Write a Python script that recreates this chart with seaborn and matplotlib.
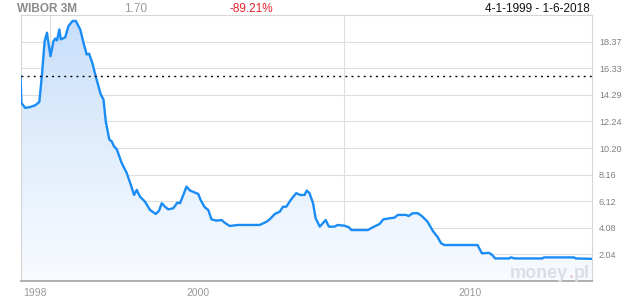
import numpy as np
import pandas as pd
import matplotlib
matplotlib.use("Agg")
import matplotlib.pyplot as plt
import seaborn as sns
from matplotlib.colors import LinearSegmentedColormap

# ---- data ----
years = [1999.00, 1999.03, 1999.16, 1999.33, 1999.50, 1999.64, 1999.73, 1999.82, 1999.90, 1999.93,
         2000.02, 2000.12, 2000.18, 2000.24, 2000.32, 2000.37, 2000.52, 2000.63, 2000.77, 2000.88,
         2001.03, 2001.14, 2001.25, 2001.33, 2001.44, 2001.54, 2001.65, 2001.73, 2001.82, 2001.90,
         2002.02, 2002.10, 2002.18, 2002.27, 2002.44, 2002.61, 2002.75, 2002.86, 2002.95, 2003.06,
         2003.23, 2003.40, 2003.60, 2003.71, 2003.80, 2003.91, 2004.02, 2004.19, 2004.33, 2004.42,
         2004.51, 2004.64, 2004.76, 2005.04, 2005.12, 2005.26, 2005.38, 2005.49, 2005.66, 2005.83,
         2005.94, 2006.11, 2006.39, 2007.13, 2007.36, 2007.47, 2007.64, 2007.81, 2007.92, 2008.03,
         2008.20, 2008.37, 2008.51, 2008.65, 2008.73, 2008.82, 2008.94, 2009.03, 2009.17, 2009.37,
         2009.48, 2009.67, 2009.78, 2010.01, 2010.16, 2010.24, 2010.80, 2010.97, 2011.20, 2011.33,
         2011.54, 2011.71, 2011.82, 2012.10, 2012.19, 2012.33, 2012.50, 2012.66, 2012.83, 2013.01,
         2013.18, 2013.29, 2013.40, 2014.53, 2014.59, 2014.68, 2014.92, 2015.03, 2015.13, 2015.60,
         2015.66, 2015.80, 2016.73, 2016.79, 2017.81, 2017.87, 2018.42]
rates = [15.76, 13.66, 13.28, 13.35, 13.48, 13.74, 15.84, 18.40, 19.05, 18.54,
         17.25, 18.40, 18.60, 18.46, 19.30, 18.54, 18.70, 19.56, 19.95, 19.95,
         19.30, 18.28, 17.38, 17.44, 16.74, 15.84, 14.94, 14.30, 13.92, 12.20,
         10.84, 10.71, 10.32, 10.12, 9.05, 8.28, 7.37, 6.60, 6.99, 6.47,
         6.09, 5.45, 5.14, 5.40, 5.97, 5.70, 5.50, 5.58, 6.01, 5.97,
         6.47, 7.24, 6.94, 6.68, 6.22, 5.66, 5.45, 4.73, 4.63, 4.68,
         4.47, 4.22, 4.30, 4.30, 4.55, 4.73, 5.14, 5.32, 5.70, 5.70,
         6.27, 6.74, 6.60, 6.60, 6.94, 6.74, 5.97, 4.81, 4.17, 4.68,
         4.17, 4.17, 4.30, 4.24, 4.12, 3.91, 3.91, 4.12, 4.37, 4.73,
         4.81, 4.86, 5.07, 5.07, 4.99, 5.20, 5.20, 4.94, 4.55, 3.85,
         3.35, 2.90, 2.76, 2.76, 2.50, 2.12, 2.16, 1.99, 1.73, 1.73,
         1.81, 1.73, 1.73, 1.81, 1.81, 1.73, 1.70]
start_value = 15.76
y_ticks = [2.04, 4.08, 6.12, 8.16, 10.20, 12.24, 14.29, 16.33, 18.37]
y_tick_labels = ["2.04", "4.08", "6.12", "8.16", "10.20", "12.24", "14.29", "16.33", "18.37"]
x_label_pos = [1999.49, 2005.03, 2014.26]
x_labels = ["1998", "2000", "2010"]
x_grid = [2000, 2010]
title = "WIBOR 3M"
last_value = "1.70"
change = "-89.21%"
date_range = "4-1-1999 - 1-6-2018"

df = pd.DataFrame({"year": years, "rate": rates})

sns.set_style("white")
plt.rcParams["font.family"] = ["Liberation Sans", "DejaVu Sans"]

fig = plt.figure(figsize=(6.25, 3.0), dpi=100)
ax = fig.add_axes([20.5 / 625, 1 - 281 / 300, (592 - 20.5) / 625, (281 - 15) / 300])

xmin, xmax = 1999.0, 2018.42
ymax = 20.408
ax.set_xlim(xmin, xmax)
ax.set_ylim(0, ymax)

# gradient fill under the curve
fill = ax.fill_between(df["year"], df["rate"], 0, color="none", lw=0)
path = fill.get_paths()[0]
grad = np.linspace(0, 1, 256).reshape(-1, 1)
cmap = LinearSegmentedColormap.from_list("g", ["#f8fbff", "#e2eefc", "#c6defb"])
im = ax.imshow(grad, extent=[xmin, xmax, 0, ymax], aspect="auto", cmap=cmap,
               origin="lower", zorder=1, interpolation="bilinear")
im.set_clip_path(path, transform=ax.transData)

sns.lineplot(data=df, x="year", y="rate", ax=ax, color="#1a8cf5", lw=1.7, zorder=3)

# grid
for v in y_ticks:
    ax.axhline(v, color="#dedede", lw=0.8, zorder=0.5)
for v in x_grid:
    ax.axvline(v, color="#dedede", lw=0.8, zorder=0.5)

ax.axhline(start_value, color="black", lw=1.0, ls=(0, (1.4, 3.0)), zorder=4)

# ticks
ax.yaxis.tick_right()
ax.set_yticks(y_ticks)
ax.set_yticklabels(y_tick_labels)
ax.set_xticks(x_label_pos)
ax.set_xticklabels(x_labels)
ax.tick_params(axis="y", length=0, pad=5, labelsize=6.5, labelcolor="#808080")
ax.tick_params(axis="x", length=0, pad=5, labelsize=7.5, labelcolor="#999999")
ax.set_xlabel("")
ax.set_ylabel("")

for s in ["left", "top", "right"]:
    ax.spines[s].set_color("#d6d6d6")
    ax.spines[s].set_linewidth(0.8)
ax.spines["bottom"].set_color("#a8a8a8")
ax.spines["bottom"].set_linewidth(1.3)

# watermark "money.pl"
fig.canvas.draw()
renderer = fig.canvas.get_renderer()
t1 = fig.text(510 / 625, 1 - 278 / 300, "money", fontsize=13, fontweight="bold",
              color="#d9dee7", ha="left", va="baseline", zorder=5)
bb = t1.get_window_extent(renderer=renderer)
t2 = fig.text(bb.x1 / fig.bbox.width + 0.5 / 625, 1 - 278 / 300, ".", fontsize=13, fontweight="bold",
              color="#f2c9cf", ha="left", va="baseline", zorder=5)
bb2 = t2.get_window_extent(renderer=renderer)
fig.text(bb2.x1 / fig.bbox.width, 1 - 278 / 300, "pl", fontsize=13, fontweight="bold",
         color="#d9dee7", ha="left", va="baseline", zorder=5)

# header
fig.text(17 / 625, 1 - 8.5 / 300, title, fontsize=8.5, fontweight="bold", color="#8a8a8a",
         ha="left", va="center")
fig.text(124 / 625, 1 - 8.5 / 300, last_value, fontsize=8.5, color="#9a9a9a", ha="left", va="center")
fig.text(229 / 625, 1 - 8.5 / 300, change, fontsize=8.5, color="#e5212b", ha="left", va="center")
fig.text(590 / 625, 1 - 8.5 / 300, date_range, fontsize=8.5, color="#111111", ha="right", va="center")

fig.savefig("out.png", dpi=100)
